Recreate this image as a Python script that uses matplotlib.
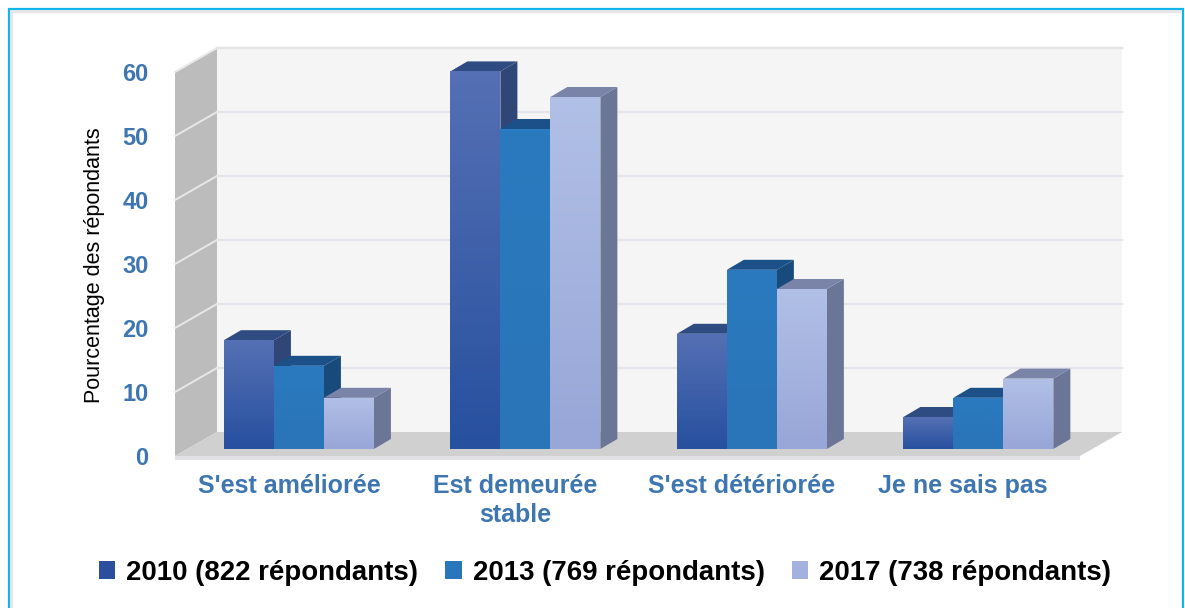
import numpy as np
import matplotlib
matplotlib.use('Agg')
from matplotlib import pyplot as plt
from matplotlib.colors import LinearSegmentedColormap
from matplotlib.patches import Polygon, Rectangle

categories = ["S'est améliorée", "Est demeurée\nstable", "S'est détériorée", "Je ne sais pas"]
series_names = ['2010 (822 répondants)', '2013 (769 répondants)', '2017 (738 répondants)']
values_2010 = [17, 59, 18, 5]
values_2013 = [13, 50, 28, 8]
values_2017 = [8, 55, 25, 11]
y_ticks = [0, 10, 20, 30, 40, 50, 60]
y_label = 'Pourcentage des répondants'

# colours: gradient top, gradient bottom, top face, side face
styles = [('#5570b4', '#27509f', '#2f4c82', '#2f4677'),
          ('#2a7abf', '#2a74b8', '#1b5088', '#194a7c'),
          ('#b1c0e6', '#98a6d8', '#7a83a8', '#6b7595')]
legend_colors = ['#2b4f9c', '#2a76ba', '#a3b1de']
text_blue = '#3d76b0'

W, H = 1185, 608
px_per_group = 226.5
px_per_unit = 6.4


def dx(px):
    return px / px_per_group


def dy(px):
    return px / px_per_unit


plt.rcParams['font.family'] = ['Liberation Sans', 'DejaVu Sans']
fig = plt.figure(figsize=(W / 100, H / 100), dpi=100)

# frame round the picture
fig.add_artist(Rectangle((8.5 / W, -0.02), (W - 11) / W, 1.02 - 9 / H, transform=fig.transFigure,
                         fc='none', ec='#12b5ea', lw=1.6))
fig.add_artist(Rectangle((10 / W, -0.02), 2.5 / W, 1.02 - 11 / H, transform=fig.transFigure,
                         fc='#e6e6e8', ec='none'))
fig.add_artist(Rectangle((10 / W, 1 - 13 / H), (W - 14) / W, 2.5 / H, transform=fig.transFigure,
                         fc='#e6e6e8', ec='none'))

ax = fig.add_axes([175 / W, (H - 456) / H, 905 / W, 384 / H])
ax.set_facecolor('none')
for s in ax.spines.values():
    s.set_visible(False)

xl, xr = -0.503, 3.493
wall_dx, wall_dy = dx(42), dy(24)

# back wall, side wall, floor
ax.add_patch(Polygon([(xl + wall_dx, wall_dy), (xr + wall_dx, wall_dy), (xr + wall_dx, 60 + wall_dy),
                      (xl + wall_dx, 60 + wall_dy)], fc='#f5f5f5', ec='none', zorder=1, clip_on=False))
ax.add_patch(Polygon([(xl, 0), (xl + wall_dx, wall_dy), (xl + wall_dx, 60 + wall_dy), (xl, 60)],
                     fc='#bcbcbc', ec='none', zorder=1, clip_on=False))
ax.add_patch(Polygon([(xl, 0), (xl + wall_dx, wall_dy), (xr + wall_dx, wall_dy), (xr, 0)],
                     fc='#d0d0d0', ec='none', zorder=1, clip_on=False))
ax.add_patch(Polygon([(xl, 0), (xr, 0), (xr, -dy(4)), (xl, -dy(4))],
                     fc='#e2e2e6', ec='none', zorder=1, clip_on=False))
for v in y_ticks[1:]:
    ax.plot([xl + wall_dx, xr + wall_dx], [v + wall_dy, v + wall_dy], color='#e4e4ec', lw=1.6, zorder=2,
            clip_on=False)
    ax.plot([xl, xl + wall_dx], [v, v + wall_dy], color='#e8e8e8', lw=1.4, zorder=2, clip_on=False)
ax.plot([xl + wall_dx, xr + wall_dx], [60 + wall_dy, 60 + wall_dy], color='#e4e4e4', lw=1.6, zorder=2,
        clip_on=False)

# bars
x = np.arange(len(categories))
bar_w = dx(50)
group_shift = dx(10)
base = dy(7)
depth_x, depth_y = dx(17), dy(10)
z = 3
for i, vals in enumerate([values_2010, values_2013, values_2017]):
    top_c, bot_c, face_top, face_side = styles[i]
    cmap = LinearSegmentedColormap.from_list('g%d' % i, [bot_c, top_c])
    lefts = x + group_shift + (i - 1.5) * bar_w
    bars = ax.bar(lefts, vals, bar_w, bottom=base, align='edge', color=top_c, zorder=z, clip_on=False)
    for b in bars:
        bx, by, bw, bh = b.get_x(), b.get_y(), b.get_width(), b.get_height()
        ax.add_patch(Polygon([(bx + bw, by), (bx + bw + depth_x, by + depth_y),
                              (bx + bw + depth_x, by + bh + depth_y), (bx + bw, by + bh)],
                             fc=face_side, ec='none', zorder=z, clip_on=False))
        ax.add_patch(Polygon([(bx, by + bh), (bx + depth_x, by + bh + depth_y),
                              (bx + bw + depth_x, by + bh + depth_y), (bx + bw, by + bh)],
                             fc=face_top, ec='none', zorder=z, clip_on=False))
        im = ax.imshow(np.linspace(1, 0, 64).reshape(-1, 1), extent=(bx, bx + bw, by, by + bh), cmap=cmap,
                       aspect='auto', zorder=z + 1)
        im.set_clip_path(b)
    z += 2

ax.set_xlim(xl, xr)
ax.set_ylim(0, 60)
# last label sits a little left of the regular spacing
ax.set_xticks(x - np.array([0, 0, 0, 0.026]))
ax.set_xticklabels(categories, fontsize=18, fontweight='bold', color=text_blue, linespacing=1.25)
ax.set_yticks(y_ticks)
ax.set_yticklabels([str(v) for v in y_ticks], fontsize=17, fontweight='bold', color=text_blue)
ax.tick_params(axis='x', length=0, pad=13)
ax.tick_params(axis='y', length=0, pad=19)
ax.set_ylabel(y_label, fontsize=15.5, color='black')
ax.yaxis.set_label_coords(-0.077, 0.497)

handles = [Rectangle((0, 0), 1, 1, fc=c, ec='none') for c in legend_colors]
fig.legend(handles, series_names, loc='center', bbox_to_anchor=(605 / W, 1 - 573 / H), ncol=3, frameon=False,
           prop={'size': 19.9, 'weight': 'bold'}, handlelength=0.6, handleheight=0.6, handletextpad=0.4,
           columnspacing=0.97)

fig.savefig('out.png', dpi=100)
